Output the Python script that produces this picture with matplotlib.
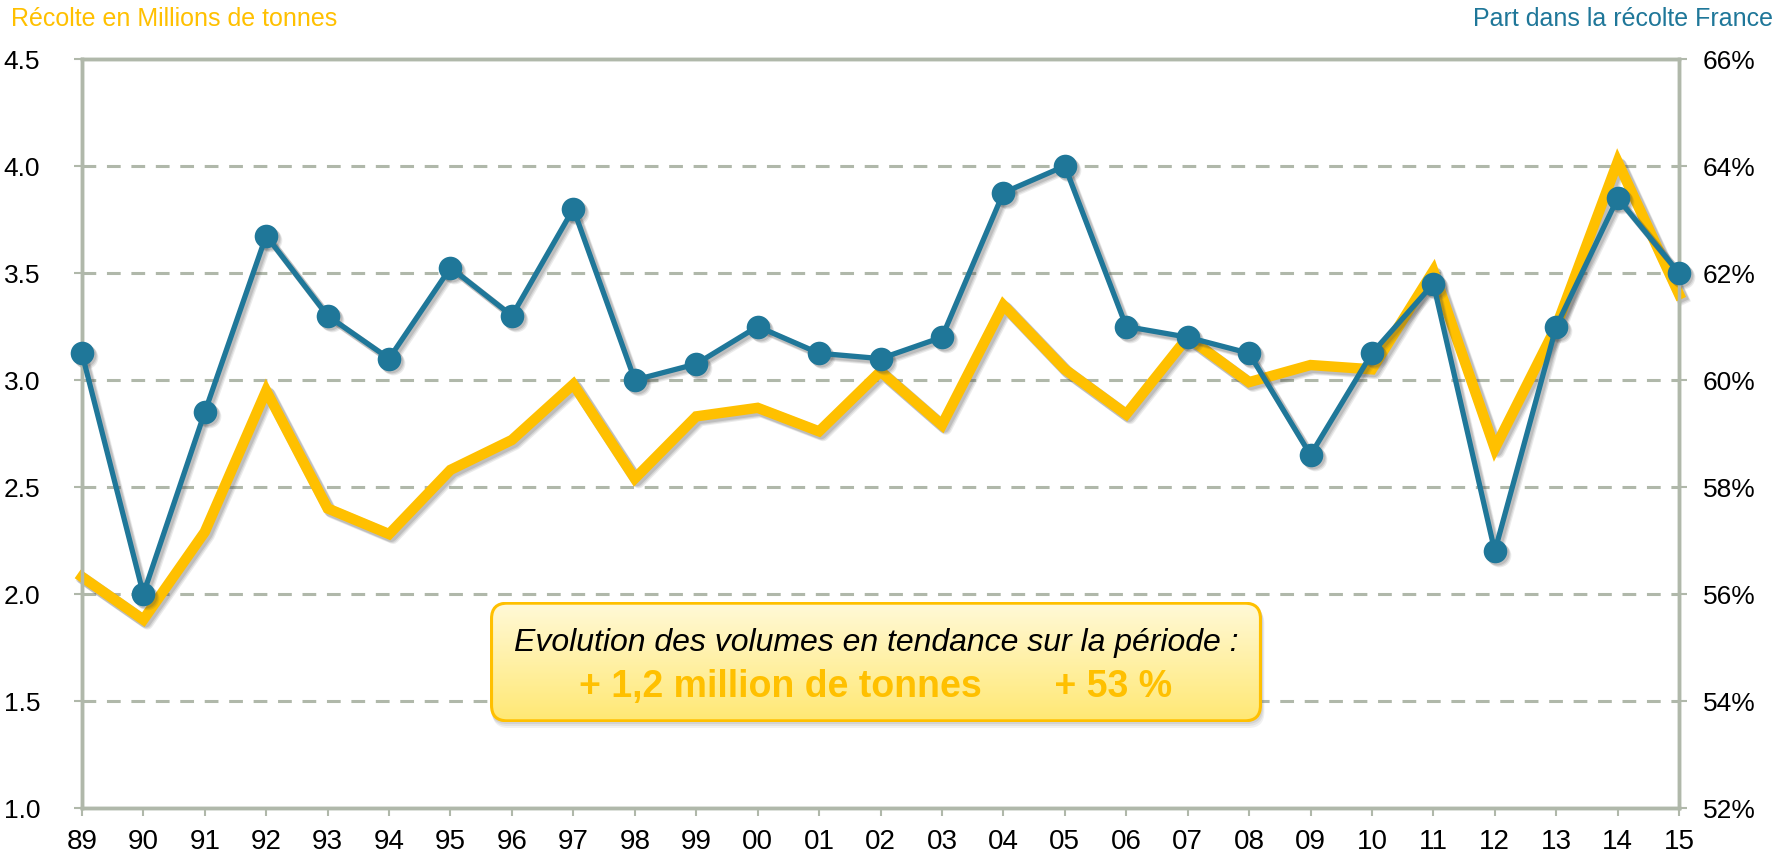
import numpy as np
import matplotlib
matplotlib.use("Agg")
import matplotlib.pyplot as plt
from matplotlib import font_manager
from matplotlib.patches import FancyBboxPatch
from matplotlib.transforms import offset_copy

# data
years = ['89', '90', '91', '92', '93', '94', '95', '96', '97', '98', '99', '00', '01', '02',
         '03', '04', '05', '06', '07', '08', '09', '10', '11', '12', '13', '14', '15']
harvest = [2.08, 1.88, 2.29, 2.95, 2.40, 2.28, 2.58, 2.72, 2.98, 2.54, 2.83, 2.87, 2.76, 3.04,
           2.79, 3.35, 3.05, 2.84, 3.20, 2.99, 3.07, 3.05, 3.51, 2.68, 3.25, 4.02, 3.40]
share = [60.5, 56.0, 59.4, 62.7, 61.2, 60.4, 62.1, 61.2, 63.2, 60.0, 60.3, 61.0, 60.5, 60.4,
         60.8, 63.5, 64.0, 61.0, 60.8, 60.5, 58.6, 60.5, 61.8, 56.8, 61.0, 63.4, 62.0]
left_ticks = [1.0, 1.5, 2.0, 2.5, 3.0, 3.5, 4.0, 4.5]
right_ticks = [52, 54, 56, 58, 60, 62, 64, 66]

YELLOW = '#FFC000'
BLUE = '#1F7799'
GRID = '#B0B8AA'

installed = {f.name for f in font_manager.fontManager.ttflist}
narrow = 'Liberation Sans Narrow' if 'Liberation Sans Narrow' in installed else 'Liberation Sans'
plt.rcParams['font.family'] = [narrow, 'DejaVu Sans']

fig = plt.figure(figsize=(17.77, 8.64), dpi=100)
ax = fig.add_axes([0.0461, 0.0648, 0.8988, 0.8669])
ax2 = ax.twinx()

x = np.arange(len(years))

# soft drop shadows, drawn as offset copies
for a, y, lw, ms in ((ax, harvest, 7.5, 0), (ax2, share, 3.8, 17)):
    for dx, al in ((4, 0.10), (3, 0.13), (2, 0.16)):
        tr = offset_copy(a.transData, fig=fig, x=dx, y=-dx, units='dots')
        a.plot(x, y, color='#444444', alpha=al, lw=lw + 1, marker='o' if ms else None,
               markersize=ms, markeredgewidth=0, transform=tr, zorder=2, clip_on=False)

ax.plot(x, harvest, color=YELLOW, lw=7.5, solid_joinstyle='miter', zorder=3, clip_on=False)
ax2.plot(x, share, color=BLUE, lw=3.8, marker='o', markersize=17, markeredgewidth=0,
         zorder=3, clip_on=False)

ax.set_xlim(0, len(years) - 1)
ax.set_ylim(1.0, 4.5)
ax2.set_ylim(52, 66)
ax.set_xticks(x)
ax.set_xticklabels(years)
ax.set_yticks(left_ticks)
ax.set_yticklabels(['%.1f' % v for v in left_ticks])
ax2.set_yticks(right_ticks)
ax2.set_yticklabels(['%d%%' % v for v in right_ticks])

for v in left_ticks[1:-1]:
    ax.axhline(v, color=GRID, lw=2.2, ls=(0, (4.5, 3.5)), zorder=1)

for a in (ax, ax2):
    for s in a.spines.values():
        s.set_color(GRID)
        s.set_linewidth(2.5)
    a.tick_params(colors=GRID, labelcolor='black', labelsize=19, length=6, width=1.5)
ax.tick_params(axis='x', labelsize=20, pad=9)
ax.tick_params(axis='y', pad=24)
ax2.tick_params(axis='y', pad=11)

fig.text(0.006, 0.978, 'Récolte en Millions de tonnes', color=YELLOW, fontsize=18,
         ha='left', va='center')
fig.text(0.998, 0.978, 'Part dans la récolte France', color=BLUE, fontsize=18,
         ha='right', va='center')

# annotation box with gradient fill
bx0, by0, bw, bh = 490 / 1777, 1 - 722 / 864, 772 / 1777, 120 / 864
for d, al in ((6, 0.10), (4, 0.12), (2, 0.15)):
    sh = FancyBboxPatch((bx0 + d * 0.4 / 1777, by0 - d / 864), bw, bh,
                        transform=fig.transFigure,
                        boxstyle='round,pad=0,rounding_size=0.009', mutation_aspect=2.06,
                        fc='#777777', ec='none', alpha=al, zorder=4)
    fig.patches.append(sh)
box_ax = fig.add_axes([bx0, by0, bw, bh])
box_ax.set_axis_off()
box_ax.set_zorder(5)
grad = np.linspace(0, 1, 100).reshape(-1, 1)
cmap = matplotlib.colors.LinearSegmentedColormap.from_list('g', ['#FFF9D8', '#FFE873'])
patch = FancyBboxPatch((0.002, 0.01), 0.996, 0.98, transform=box_ax.transAxes,
                       boxstyle='round,pad=0,rounding_size=0.02', mutation_aspect=6.4,
                       fc='none', ec=YELLOW, lw=2.2, zorder=3)
box_ax.add_patch(patch)
im = box_ax.imshow(grad, extent=[0, 1, 0, 1], origin='upper', cmap=cmap, aspect='auto', zorder=1)
im.set_clip_path(patch)
box_ax.set_xlim(0, 1)
box_ax.set_ylim(0, 1)
box_ax.text(0.5, 0.66, 'Evolution des volumes en tendance sur la période :', style='italic',
            fontsize=23, ha='center', va='center', color='black', zorder=4)
box_ax.text(0.5, 0.29, '+ 1,2 million de tonnes       + 53 %', fontweight='bold',
            fontsize=27, ha='center', va='center', color=YELLOW, zorder=4)

fig.savefig('out.png', dpi=100)
